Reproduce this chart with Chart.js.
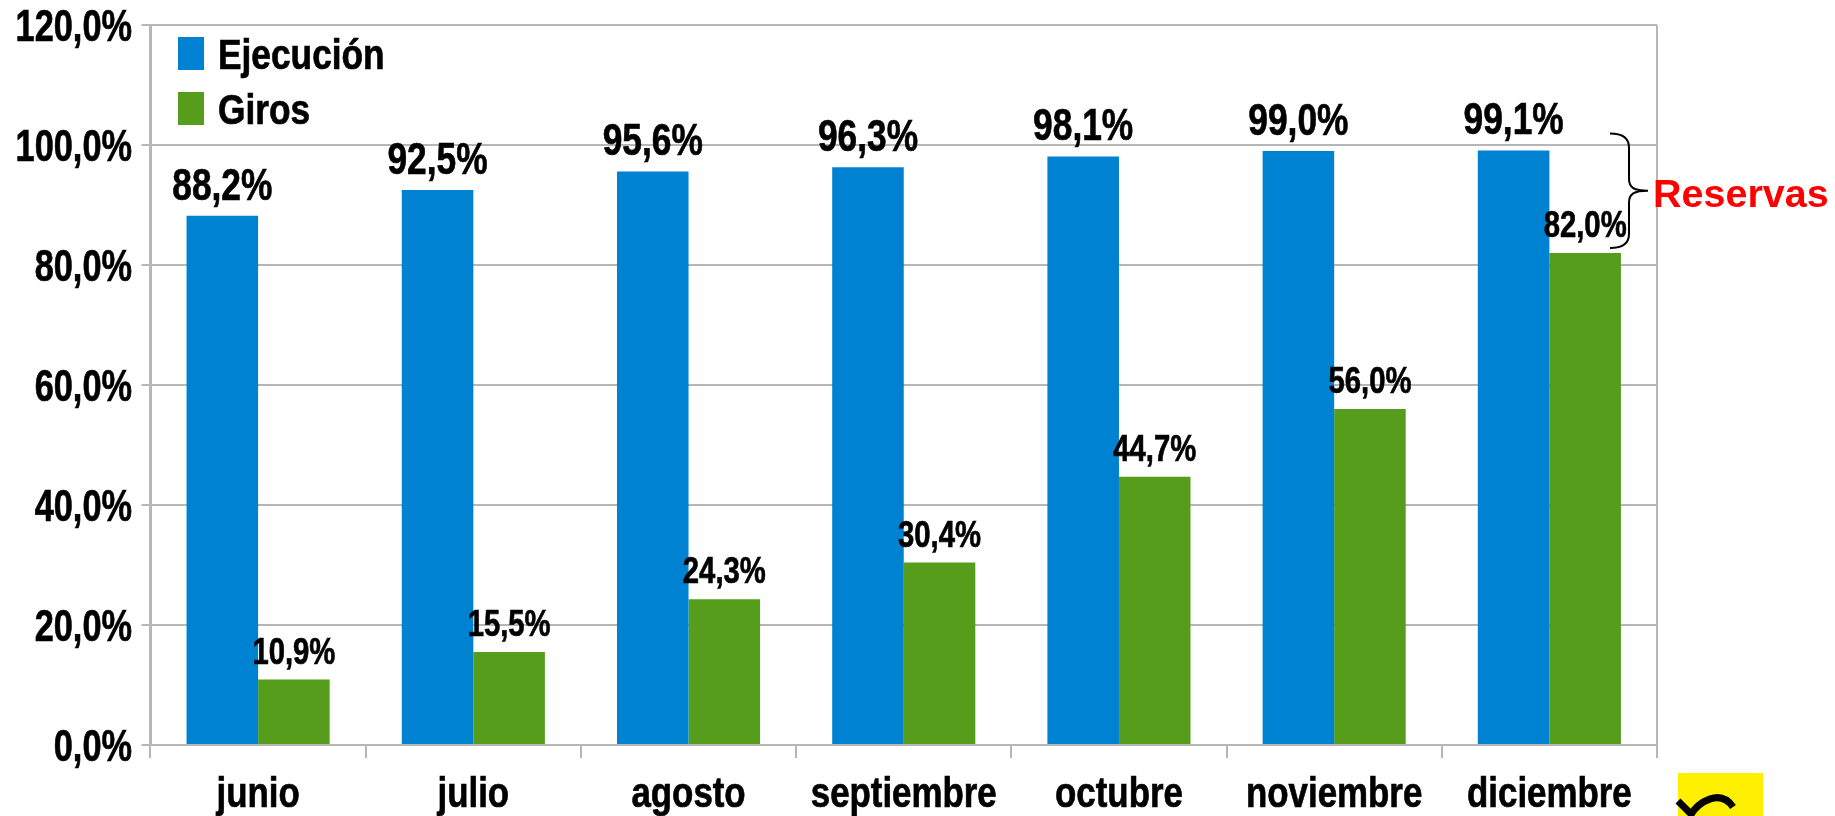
<!DOCTYPE html>
<html>
<head>
<meta charset="utf-8">
<style>
  html, body { margin: 0; padding: 0; background: #fff; }
  #wrap { width: 1835px; height: 816px; }
</style>
<script src="https://cdn.jsdelivr.net/npm/chart.js@4"></script>
</head>
<body>
<div id="wrap"><canvas id="myChart"></canvas></div>
<script>
var months = ["junio", "julio", "agosto", "septiembre", "octubre", "noviembre", "diciembre"];
var ejecucion = [88.2, 92.5, 95.6, 96.3, 98.1, 99.0, 99.1];
var giros = [10.9, 15.5, 24.3, 30.4, 44.7, 56.0, 82.0];
var yTickLabels = ["0,0%", "20,0%", "40,0%", "60,0%", "80,0%", "100,0%", "120,0%"];

var family = "'Liberation Sans'";
var grey = "#b6b6b6";

function pct(v) {
  return v.toFixed(1).replace(".", ",") + "%";
}

// no narrow font installed, so squeeze the bold one sideways
function narrowText(ctx, text, x, y, size, sx, align) {
  ctx.save();
  ctx.translate(x, y);
  ctx.scale(sx, 1);
  ctx.font = "bold " + size + "px " + family;
  ctx.fillStyle = "#000";
  ctx.strokeStyle = "#000";
  ctx.lineWidth = 0.7;
  ctx.textAlign = align;
  ctx.textBaseline = "alphabetic";
  ctx.fillText(text, 0, 0);
  ctx.strokeText(text, 0, 0);
  ctx.restore();
}

// value labels over the bars
var barLabels = {
  id: "barLabels",
  afterDatasetsDraw: function (chart) {
    var sizes = [45, 37.5];
    var squeeze = [0.785, 0.78];
    chart.data.datasets.forEach(function (ds, d) {
      chart.getDatasetMeta(d).data.forEach(function (bar, i) {
        narrowText(chart.ctx, pct(ds.data[i]), bar.x, bar.y - 16, sizes[d], squeeze[d], "center");
      });
    });
  }
};

// axis and legend text, same places the library works out
var axisText = {
  id: "axisText",
  afterLayout: function (chart) {
    chart.legend.left = 165;
    chart.legend.top = 19.5;
    chart.legend.adjustHitBoxes();
  },
  afterDraw: function (chart) {
    var ctx = chart.ctx;
    var x = chart.scales.x;
    var y = chart.scales.y;
    x.ticks.forEach(function (t, i) {
      narrowText(ctx, months[i], x.getPixelForTick(i), 807, 42, 0.83, "center");
    });
    y.ticks.forEach(function (t, i) {
      narrowText(ctx, yTickLabels[i], 132, y.getPixelForTick(i) + 16, 44, 0.78, "right");
    });
    chart.legend.legendItems.forEach(function (item, i) {
      narrowText(ctx, item.text, chart.legend.left + 53, chart.legend.top + 49 + 55 * i, 42, 0.84, "left");
    });
  }
};

// brace + "Reservas" note, and the cut off logo
var extras = {
  id: "extras",
  afterDraw: function (chart) {
    var ctx = chart.ctx;
    var y = chart.scales.y;
    var top = y.getPixelForValue(99.1) - 17;
    var bottom = y.getPixelForValue(82) - 5;
    var mid = (top + bottom) / 2;
    var x = chart.chartArea.right - 28;
    ctx.save();
    ctx.strokeStyle = "#000";
    ctx.lineWidth = 2;
    ctx.beginPath();
    ctx.moveTo(x - 19, top);
    ctx.bezierCurveTo(x - 6, top, x, top + 5, x, top + 14);
    ctx.lineTo(x, mid - 12);
    ctx.bezierCurveTo(x, mid - 3, x + 5, mid, x + 19, mid);
    ctx.bezierCurveTo(x + 5, mid, x, mid + 3, x, mid + 12);
    ctx.lineTo(x, bottom - 14);
    ctx.bezierCurveTo(x, bottom - 5, x - 6, bottom, x - 19, bottom);
    ctx.stroke();

    ctx.fillStyle = "#ff0000";
    ctx.font = "bold 39.5px " + family;
    ctx.textAlign = "left";
    ctx.textBaseline = "alphabetic";
    ctx.fillText("Reservas", 1653, 207);

    ctx.fillStyle = "#ffef00";
    ctx.fillRect(1678, 773, 85, 43);
    ctx.strokeStyle = "#000";
    ctx.lineWidth = 7;
    ctx.beginPath();
    ctx.moveTo(1678, 801);
    ctx.lineTo(1693, 816);
    ctx.moveTo(1690, 816);
    ctx.bezierCurveTo(1698, 802, 1720, 788, 1733, 807);
    ctx.stroke();
    ctx.restore();
  }
};

var ctx = document.getElementById("myChart").getContext("2d");
var myChart = new Chart(ctx, {
  type: "bar",
  data: {
    labels: months,
    datasets: [
      { label: "Ejecución", data: ejecucion, backgroundColor: "#0082d2" },
      { label: "Giros", data: giros, backgroundColor: "#579d1c" }
    ]
  },
  options: {
    responsive: true,
    maintainAspectRatio: false,
    animation: false,
    layout: { padding: { top: 25, right: 178, left: 0, bottom: 0 } },
    datasets: { bar: { barPercentage: 1, categoryPercentage: 0.665 } },
    plugins: {
      tooltip: { enabled: false },
      legend: {
        position: "chartArea",
        align: "start",
        labels: {
          boxWidth: 26,
          boxHeight: 33,
          padding: 13,
          color: "transparent",
          font: { family: family, size: 42, weight: "bold" }
        }
      }
    },
    scales: {
      x: {
        afterFit: function (s) {
          s.height = 71;
          s.paddingLeft = 0;
          s.paddingRight = 0;
        },
        border: { color: grey, width: 2 },
        grid: {
          offset: true,
          lineWidth: 2,
          tickLength: 13,
          tickColor: grey,
          color: function (c) {
            return c.index === undefined || c.index === 0 ? grey : "transparent";
          }
        },
        ticks: {
          color: "transparent",
          maxRotation: 0,
          autoSkip: false,
          font: { family: family, size: 30, weight: "bold" }
        }
      },
      y: {
        min: 0,
        max: 120,
        afterFit: function (s) {
          s.width = 150.5;
          s.paddingTop = 0;
          s.paddingBottom = 0;
        },
        border: { color: grey, width: 2 },
        grid: { color: grey, lineWidth: 2, tickLength: 9 },
        ticks: {
          stepSize: 20,
          color: "transparent",
          font: { family: family, size: 30, weight: "bold" },
          callback: function (v, i) { return yTickLabels[i]; }
        }
      }
    }
  },
  plugins: [barLabels, axisText, extras]
});
</script>
</body>
</html>
